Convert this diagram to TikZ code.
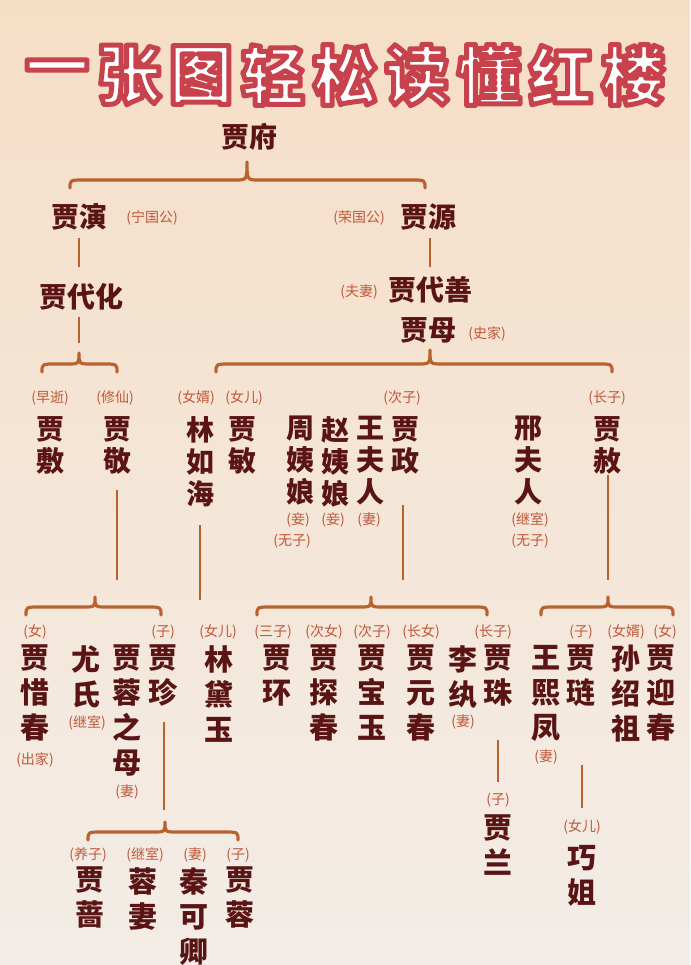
\documentclass[tikz,border=0pt]{standalone}
\usepackage{fontspec}
\usetikzlibrary{calc}
\setmainfont{Noto Sans CJK SC}
\definecolor{nm}{HTML}{5A1414}
\definecolor{lb}{HTML}{C0583A}
\definecolor{br}{HTML}{B8622E}
\definecolor{tr}{HTML}{C8424C}
\newcommand\brc[5]{\draw[brc] (#1,#4) .. controls (#1,#4-8) .. (#1+14,#4-8) -- (#3-12,#4-8) .. controls (#3,#4-8) .. (#3,#5) .. controls (#3,#4-8) .. (#3+12,#4-8) -- (#2-14,#4-8) .. controls (#2,#4-8) .. (#2,#4);}
\newcommand\vn[4]{\node[vnode,anchor=north] (#1) at (#2,#3-14) {#4};}
\newcommand\vm[4]{\node[vnode2,anchor=north] (#1) at (#2,#3-15) {#4};}
\newcommand\strk[1]{{\color{white}\special{pdf:literal direct 2 Tr 5 w 1 j 0.78 0.26 0.30 RG}#1\special{pdf:literal direct 0 Tr}}}
\begin{document}
\begin{tikzpicture}[x=1pt,y=-1pt,
  hn/.style={font=\fontsize{28}{30}\selectfont\bfseries,text=nm,inner sep=0},
  vnode/.style={font=\fontsize{28}{32}\selectfont\bfseries,text=nm,inner sep=0,align=center},
  vnode2/.style={font=\fontsize{29}{35}\selectfont\bfseries,text=nm,inner sep=0,align=center},
  lab/.style={font=\fontsize{14}{15}\selectfont,text=lb,inner sep=0},
  brc/.style={draw=br,line width=3.2pt,line cap=round,line join=round},
  ln/.style={draw=br,line width=2pt}]
\useasboundingbox (0,0) rectangle (690,965);
\shade[top color={rgb,255:red,246;green,222;blue,198},bottom color={rgb,255:red,243;green,237;blue,231}] (0,0) rectangle (690,965);
% title
\foreach \c [count=\i from 0] in {一,张,图,轻,松,读,懂,红,楼}
  \node[font=\fontsize{64}{70}\selectfont\bfseries,inner sep=0] (t\i) at (345+72*\i-288,75) {\strk{\c}};
% top
\node[hn] (fu) at (249,137) {贾府};
\brc{70}{425}{247}{188}{162}
\node[hn] (yan) at (79,217) {贾演};
\node[lab] at (152,218) {(宁国公)};
\node[lab] at (359,218) {(荣国公)};
\node[hn] (yuan) at (428,217) {贾源};
\draw[ln] (79,238) -- (79,267);
\draw[ln] (430,238) -- (430,267);
\node[hn] (dh) at (81,297) {贾代化};
\node[lab] at (359,292) {(夫妻)};
\node[hn] (ds) at (430,290) {贾代善};
\node[hn] (mu) at (428,330) {贾母};
\node[lab] at (487,334) {(史家)};
\draw[ln] (79,317) -- (79,343);
\brc{42}{117}{79}{372}{353}
\brc{216}{612}{430}{372}{350}
% generation 3 labels
\node[lab] at (50,398) {(早逝)};
\node[lab] at (115,398) {(修仙)};
\node[lab] at (196,398) {(女婿)};
\node[lab] at (244,398) {(女儿)};
\node[lab] at (402,398) {(次子)};
\node[lab] at (607,398) {(长子)};
\vn{fu2}{50}{430}{贾\\敷}
\vn{jing}{117}{430}{贾\\敬}
\vn{lin}{200}{430}{林\\如\\海}
\vn{min}{242}{430}{贾\\敏}
\vn{zhou}{300}{430}{周\\姨\\娘}
\vn{zhao}{335}{430}{赵\\姨\\娘}
\vn{wang}{370}{430}{王\\夫\\人}
\vn{zheng}{405}{430}{贾\\政}
\vn{xing}{528}{430}{邢\\夫\\人}
\vn{she}{607}{430}{贾\\赦}
\node[lab] at (298,520) {(妾)};
\node[lab] at (333,520) {(妾)};
\node[lab] at (369,520) {(妻)};
\node[lab] at (292,541) {(无子)};
\node[lab] at (530,520) {(继室)};
\node[lab] at (530,541) {(无子)};
\draw[ln] (117,490) -- (117,580);
\draw[ln] (200,525) -- (200,600);
\draw[ln] (403,505) -- (403,580);
\draw[ln] (608,475) -- (608,580);
\brc{26}{161}{95}{615}{597}
\brc{257}{487}{371}{615}{597}
\brc{541}{673}{608}{615}{597}
% generation 4 labels
\foreach \x/\t in {35/(女),163/(子),218/(女儿),273/(三子),324/(次女),372/(次子),421/(长女),493/(长子),581/(子),626/(女婿),665/(女)}
  \node[lab] at (\x,632) {\t};
\vm{xc}{35}{660}{贾\\惜\\春}
\vm{ys}{86}{660}{尤\\氏}
\vm{rm}{127}{660}{贾\\蓉\\之\\母}
\vm{zhen}{163}{660}{贾\\珍}
\vm{dy}{219}{660}{林\\黛\\玉}
\vm{huan}{277}{660}{贾\\环}
\vm{tc}{324}{660}{贾\\探\\春}
\vm{by}{372}{660}{贾\\宝\\玉}
\vm{yc}{421}{660}{贾\\元\\春}
\vm{lw}{463}{660}{李\\纨}
\vm{zhu}{498}{660}{贾\\珠}
\vm{xf}{546}{660}{王\\熙\\凤}
\vm{lian}{581}{660}{贾\\琏}
\vm{ssz}{626}{660}{孙\\绍\\祖}
\vm{ycy}{661}{660}{贾\\迎\\春}
\node[lab] at (35,760) {(出家)};
\node[lab] at (87,723) {(继室)};
\node[lab] at (127,792) {(妻)};
\node[lab] at (463,722) {(妻)};
\node[lab] at (546,757) {(妻)};
\draw[ln] (164,722) -- (164,810);
\draw[ln] (498,740) -- (498,782);
\draw[ln] (582,765) -- (582,808);
\brc{88}{238}{165}{840}{822}
\foreach \x/\t in {88/(养子),145/(继室),195/(妻),238/(子)}
  \node[lab] at (\x,855) {\t};
\vm{qiang}{90}{882}{贾\\蔷}
\vm{rq}{143}{882}{蓉\\妻}
\vm{qkq}{194}{882}{秦\\可\\卿}
\vm{rong}{240}{882}{贾\\蓉}
\node[lab] at (498,800) {(子)};
\vm{lan}{498}{830}{贾\\兰}
\node[lab] at (582,827) {(女儿)};
\vm{qj}{582}{860}{巧\\姐}
\end{tikzpicture}
\end{document}
